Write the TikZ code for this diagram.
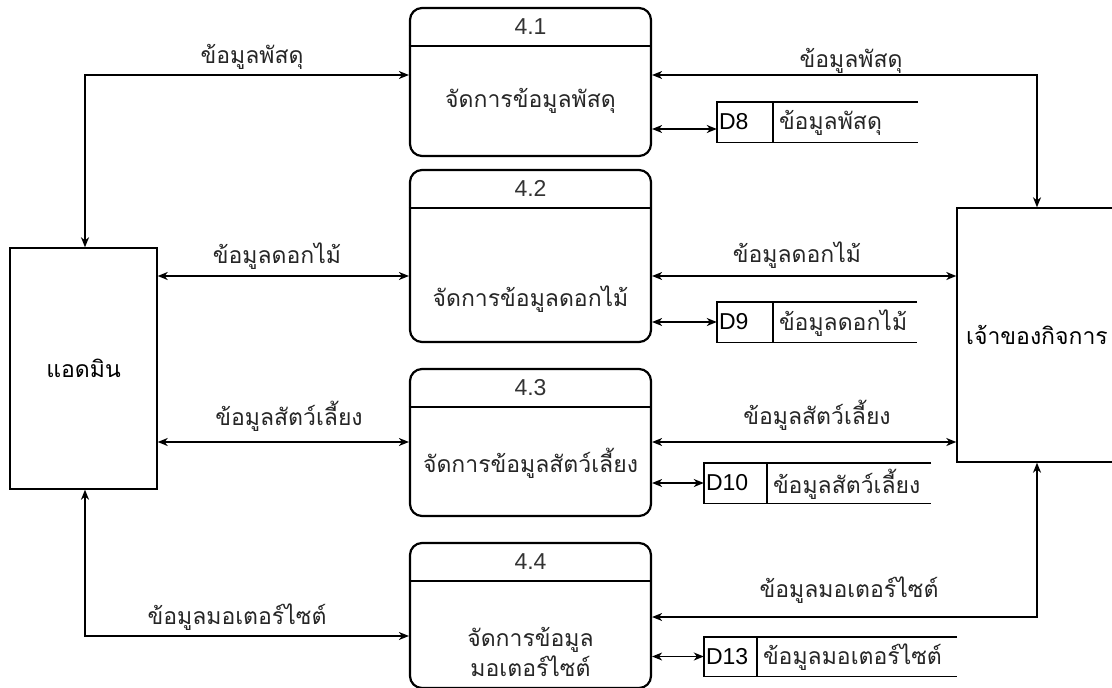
\documentclass[tikz,border=0pt]{standalone}
\usepackage{fontspec}
\setmainfont{Liberation Sans}
\newfontfamily\thai[Script=Thai]{Loma}
\usetikzlibrary{arrows.meta}
\tikzset{
  tip/.tip={Stealth[length=10pt,width=8pt,inset=3pt]},
  proc/.style={draw, line width=2.2pt, rounded corners=12pt, minimum width=241pt, inner sep=0pt},
  ent/.style={draw, line width=1.4pt, inner sep=0pt, font=\thai\fontsize{23}{27}\selectfont},
  flowone/.style={line width=1.4pt, -tip},
  flowtwo/.style={line width=1.4pt, tip-tip},
  lab/.style={inner sep=0pt, font=\thai\fontsize{23}{27}\selectfont, text=black!85},
  num/.style={inner sep=0pt, font=\fontsize{23}{27}\selectfont, text=black!80},
  hline/.style={line width=2.2pt},
  storeline/.style={line width=1.4pt},
  storebox/.style={draw=none, inner sep=0pt},
}
\begin{document}
\begin{tikzpicture}[x=1pt,y=-1pt]
\useasboundingbox (0,0) rectangle (1112,688);

% external entities
\node[ent, minimum width=147pt, minimum height=241pt] (admin) at (83.5,368.5) {แอดมิน};
\node[ent, minimum width=160pt, minimum height=254pt] (owner) at (1037,335) {เจ้าของกิจการ};

% processes
\node[proc, minimum height=148pt] (p1) at (530.5,82) {};
\node[proc, minimum height=172pt] (p2) at (530.5,256) {};
\node[proc, minimum height=147pt] (p3) at (530.5,442.5) {};
\node[proc, minimum height=145pt] (p4) at (530.5,615.5) {};
\foreach \p/\n in {p1/4.1,p2/4.2,p3/4.3,p4/4.4}{
  \draw[hline] ([yshift=-39pt]\p.north west) -- ([yshift=-39pt]\p.north east);
  \node[num] (\p num) at ([yshift=-20pt]\p.north) {\n};
}
\node[lab] (p1t) at (530.5,101) {จัดการข้อมูลพัสดุ};
\node[lab] (p2t) at (530.5,299) {จัดการข้อมูลดอกไม้};
\node[lab] (p3t) at (530.5,463) {จัดการข้อมูลสัตว์เลี้ยง};
\node[lab, align=center] (p4t) at (530.5,652) {จัดการข้อมูล\\[3pt]มอเตอร์ไซต์};

% data stores
\node[storebox, minimum width=201pt, minimum height=40pt] (d8) at (817.5,122) {};
\node[storebox, minimum width=200pt, minimum height=40pt] (d9) at (817,322) {};
\node[storebox, minimum width=227pt, minimum height=40pt] (d10) at (817.5,483) {};
\node[storebox, minimum width=253pt, minimum height=39pt] (d13) at (830.5,656.5) {};
\foreach \d/\w/\id/\txt in {d8/56/D8/ข้อมูลพัสดุ, d9/56/D9/ข้อมูลดอกไม้, d10/63/D10/ข้อมูลสัตว์เลี้ยง, d13/53/D13/ข้อมูลมอเตอร์ไซต์}{
  \draw[storeline] (\d.north east) -- (\d.north west) -- (\d.south west) -- (\d.south east);
  \draw[storeline] ([xshift=\w pt]\d.north west) -- ([xshift=\w pt]\d.south west);
  \node[num, anchor=west, text=black] (\d id) at ([xshift=2pt]\d.west) {\id};
  \node[lab, anchor=west] (\d txt) at ([xshift=\w pt+6pt, yshift=-1pt]\d.west) {\txt};
}

% helper coordinates
\coordinate (a1) at (85,75);
\coordinate (o1) at (1037,75);
\coordinate (y2) at (0,276);
\coordinate (y3) at (0,442);
\coordinate (a4) at (85,636);
\coordinate (o4) at (1037,617);

% flows admin side
\draw[flowtwo] (admin.north -| a1) -- (a1) -- (a1 -| p1.west);
\draw[flowtwo] (admin.east |- y2) -- (p2.west |- y2);
\draw[flowtwo] (admin.east |- y3) -- (p3.west |- y3);
\draw[flowtwo] (admin.south -| a4) -- (a4) -- (a4 -| p4.west);

% flows owner side
\draw[flowtwo] (owner.north) -- (o1) -- (o1 -| p1.east);
\draw[flowtwo] (p2.east |- y2) -- (owner.west |- y2);
\draw[flowtwo] (p3.east |- y3) -- (owner.west |- y3);
\draw[flowtwo] (owner.south) -- (o4) -- (o4 -| p4.east);

% store flows
\coordinate (s8) at (0,129);
\draw[flowtwo] (p1.east |- s8) -- (d8.west |- s8);
\draw[flowtwo] (p2.east |- d9.west) -- (d9.west);
\draw[flowtwo] (p3.east |- d10.west) -- (d10.west);
\draw[flowtwo] (p4.east |- d13.west) -- (d13.west);

% labels
\node[lab] (l1) at (252,57) {ข้อมูลพัสดุ};
\node[lab] (r1) at (851,61) {ข้อมูลพัสดุ};
\node[lab] (l2) at (277,256) {ข้อมูลดอกไม้};
\node[lab] (r2) at (797,255) {ข้อมูลดอกไม้};
\node[lab] (l3) at (289,416) {ข้อมูลสัตว์เลี้ยง};
\node[lab] (r3) at (817,415) {ข้อมูลสัตว์เลี้ยง};
\node[lab] (l4) at (237,617) {ข้อมูลมอเตอร์ไซต์};
\node[lab] (r4) at (849,590) {ข้อมูลมอเตอร์ไซต์};
\end{tikzpicture}
\end{document}
